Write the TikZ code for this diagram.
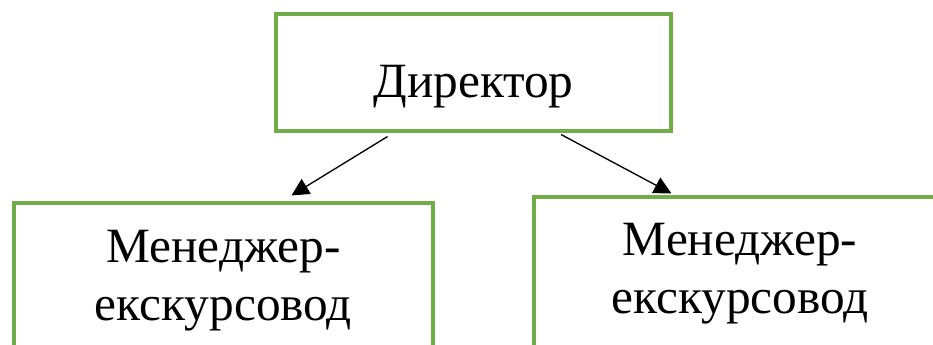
\documentclass[tikz,border=0pt]{standalone}
\usepackage{fontspec}
\setmainfont{Liberation Serif}
\usetikzlibrary{arrows.meta,calc}
\definecolor{boxgreen}{HTML}{70AD47}
\tikzset{
  unitbox/.style={draw=boxgreen, line width=2.3pt, rectangle, inner sep=0pt},
  boxtext/.style={font=\fontsize{37}{43}\selectfont, align=center, inner sep=0pt},
  link/.style={line width=1pt, -{Triangle[length=13pt,width=13pt]}}
}
\begin{document}
\begin{tikzpicture}[x=0.75pt,y=-0.75pt]
  \useasboundingbox (0,0) rectangle (933,344);
  \clip (0,0) rectangle (933,344);
  % boxes
  \node[unitbox, minimum width=395*0.75pt, minimum height=117*0.75pt] (dir) at (473.5,72.5) {};
  \node[unitbox, minimum width=419*0.75pt, minimum height=160*0.75pt] (mgrA) at (223.5,283) {};
  \node[unitbox, minimum width=412*0.75pt, minimum height=162*0.75pt] (mgrB) at (740,278) {};
  % labels (base anchor sits on the last line)
  \node[boxtext, anchor=base] (tdir) at (473.5,97) {Директор};
  \node[boxtext, anchor=base] (tmgrA) at (223.5,320) {Менеджер-\\екскурсовод};
  \node[boxtext, anchor=base] (tmgrB) at (740,313) {Менеджер-\\екскурсовод};
  % connectors
  \coordinate (endA) at ($(mgrA.north west)+(279,-6)$);
  \coordinate (endB) at ($(mgrB.north west)+(139,-2)$);
  \draw[link] ($(dir.south west)!0.284!(dir.south east)+(0,4)$) -- (endA);
  \draw[link] ($(dir.south west)!0.72!(dir.south east)+(0,2)$) -- (endB);
\end{tikzpicture}
\end{document}
